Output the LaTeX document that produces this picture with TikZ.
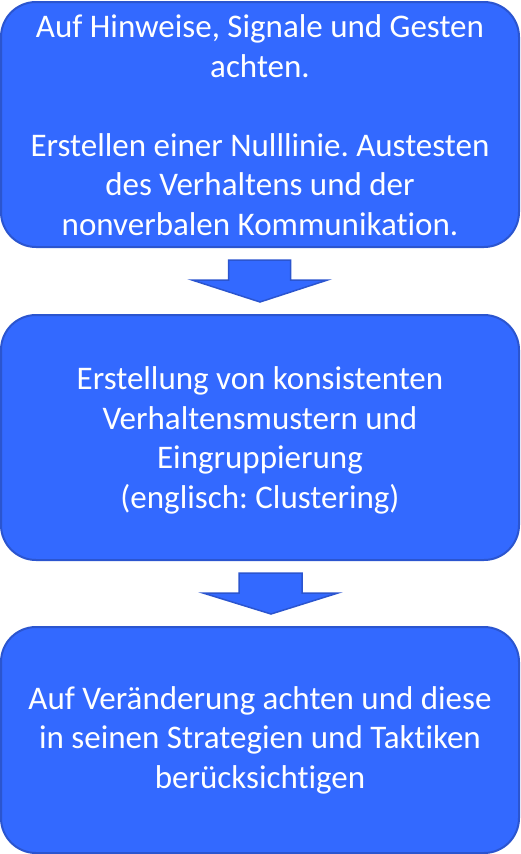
\documentclass[tikz,border=0pt]{standalone}
\usepackage{fontspec}
\setmainfont[Ligatures=NoCommon]{Carlito}
\frenchspacing
\definecolor{boxfill}{HTML}{3369FF}
\definecolor{boxline}{HTML}{2B55CF}
\begin{document}
\begin{tikzpicture}[x=1pt,y=-1pt,
  box/.style={draw=boxline,fill=boxfill,line width=2pt,rounded corners=35pt},
  txt/.style={text=white,align=center,inner sep=0pt,anchor=base,
    font=\fontsize{33}{39.5}\selectfont},
  blockarrow/.style={draw=boxline,fill=boxfill,line width=1.5pt,line join=miter}]
\useasboundingbox (0,0) rectangle (521,854);
\draw[box] (1,2) rectangle (519,247);
\coordinate (b1) at (260,124.5);
\draw[box] (1,315) rectangle (519,560);
\coordinate (b2) at (260,437.5);
\draw[box] (1,627) rectangle (519,853);
\coordinate (b3) at (260,740);
\node[txt] (t1) at (260,235) {Auf Hinweise, Signale und Gesten\\achten.\\\mbox{}\\Erstellen einer Nulllinie. Austesten\\des Verhaltens und der\\nonverbalen Kommunikation.};
\node[txt] (t2) at (260,508) {Erstellung von konsistenten\\Verhaltensmustern und\\Eingruppierung\\(englisch: Clustering)};
\node[txt] (t3) at (260,788) {Auf Veränderung achten und diese\\in seinen Strategien und Taktiken\\berücksichtigen};
\coordinate (a1) at (259.5,260);
\draw[blockarrow] (a1) ++(-31,0) -- ++(62,0) -- ++(0,20) -- ++(37,0) -- (260,302) -- (192,280) -- (228.5,280) -- cycle;
\coordinate (a2) at (270.5,573);
\draw[blockarrow] (a2) ++(-31.5,0) -- ++(63,0) -- ++(0,20) -- ++(36,0) -- (271,614) -- (203,593) -- (239,593) -- cycle;
\end{tikzpicture}
\end{document}
